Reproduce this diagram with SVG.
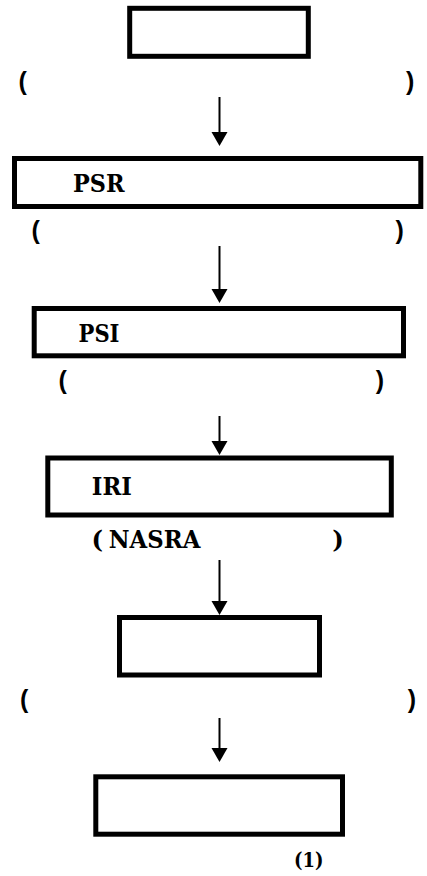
<svg xmlns="http://www.w3.org/2000/svg" width="427" height="876" viewBox="0 0 427 876">
  <style>
    .box { fill: #ffffff; stroke: #000000; stroke-width: 5; }
    .lbl { font-family: "DejaVu Serif", "Liberation Serif", serif; font-weight: bold; font-size: 24.5px; fill: #000000; }
    .par { font-family: "Liberation Sans", Arial, sans-serif; font-weight: bold; font-size: 25px; fill: #000000; }
    .conn line { stroke: #000000; stroke-width: 2; }
    .conn use { fill: #000000; }
  </style>
  <defs>
    <!-- downward arrowhead, tip at the origin -->
    <polygon id="head" points="-8,-14 8,-14 0,0"/>
  </defs>
  <rect width="427" height="876" fill="#ffffff"/>

  <g id="node1">
    <rect class="box" x="129.7" y="8.3" width="178.6" height="48"/>
  </g>
  <g id="note1">
    <text class="par" x="18.5" y="89.7">(</text>
    <text class="par" x="406" y="89.7">)</text>
  </g>

  <g id="node2">
    <rect class="box" x="14.5" y="158.5" width="406.3" height="48"/>
    <text class="lbl" x="73" y="191.7" textLength="51.5" lengthAdjust="spacingAndGlyphs">PSR</text>
  </g>
  <g id="note2">
    <text class="par" x="31.5" y="238.8">(</text>
    <text class="par" x="395.5" y="238.8">)</text>
  </g>

  <g id="node3">
    <rect class="box" x="34.2" y="308.5" width="369.3" height="47.3"/>
    <text class="lbl" x="78.5" y="342.3" textLength="41" lengthAdjust="spacingAndGlyphs">PSI</text>
  </g>
  <g id="note3">
    <text class="par" x="58.5" y="388.8">(</text>
    <text class="par" x="375.8" y="388.8">)</text>
  </g>

  <g id="node4">
    <rect class="box" x="47.8" y="458" width="343.5" height="57"/>
    <text class="lbl" x="91.8" y="495" textLength="40" lengthAdjust="spacingAndGlyphs">IRI</text>
  </g>
  <g id="note4">
    <text class="lbl" x="91.5" y="548.3">(</text>
    <text class="lbl" x="108.8" y="548.3" textLength="91.5" lengthAdjust="spacingAndGlyphs">NASRA</text>
    <text class="lbl" x="332.3" y="548.3">)</text>
  </g>

  <g id="node5">
    <rect class="box" x="119.5" y="617.5" width="200" height="57.5"/>
  </g>
  <g id="note5">
    <text class="par" x="20" y="708">(</text>
    <text class="par" x="407.8" y="708">)</text>
  </g>

  <g id="node6">
    <rect class="box" x="95.8" y="776.8" width="246.7" height="57.4"/>
  </g>
  <g id="caption">
    <text class="lbl" x="294" y="867" style="font-size:21px" textLength="29.5" lengthAdjust="spacingAndGlyphs">(1)</text>
  </g>

  <g id="connectors" class="conn">
    <line x1="219.5" y1="97" x2="219.5" y2="133"/>
    <use href="#head" x="219.5" y="146"/>
    <line x1="219.5" y1="246" x2="219.5" y2="290"/>
    <use href="#head" x="219.5" y="303"/>
    <line x1="219.5" y1="416" x2="219.5" y2="442"/>
    <use href="#head" x="219.5" y="455"/>
    <line x1="219.5" y1="560" x2="219.5" y2="602"/>
    <use href="#head" x="219.5" y="615"/>
    <line x1="219.5" y1="718" x2="219.5" y2="749"/>
    <use href="#head" x="219.5" y="762"/>
  </g>
</svg>
